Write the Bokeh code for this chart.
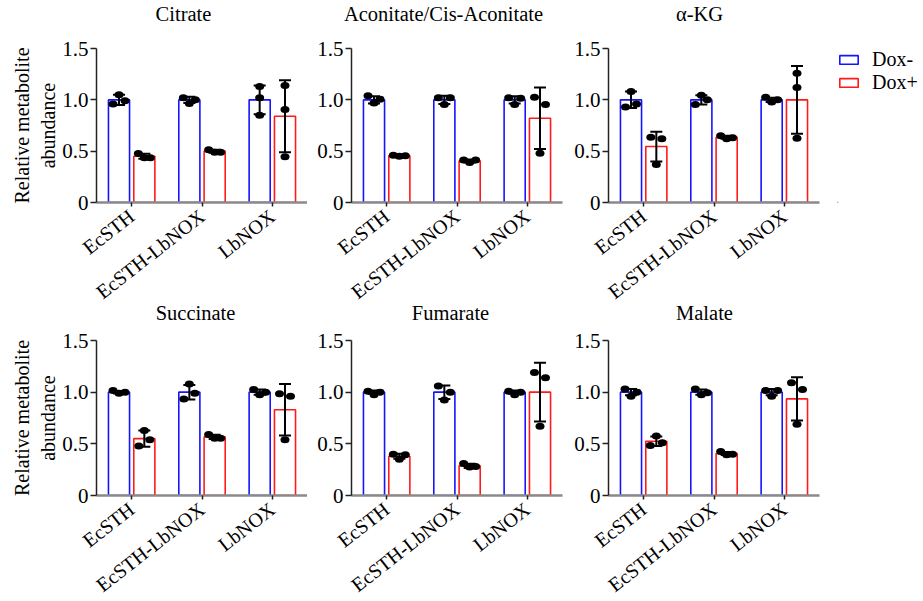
import math, json
from bokeh.plotting import figure
from bokeh.layouts import row, column
from bokeh.models import (ColumnDataSource, Range1d, FixedTicker, Whisker, TeeHead,
                          Legend, LegendItem, CustomJSTickFormatter, LinearAxis,
                          GlobalInlineStyleSheet)
from bokeh.embed import file_html
from bokeh.resources import INLINE

# ---------------- data ----------------
categories = ["EcSTH", "EcSTH-LbNOX", "LbNOX"]
groups = ["Dox-", "Dox+"]
titles = ["Citrate", "Aconitate/Cis-Aconitate", "\u03b1-KG", "Succinate", "Fumarate", "Malate"]
y_ticks = [0, 0.5, 1.0, 1.5]

citrate_mean_minus = [1.0, 1.0, 1.0]
citrate_sd_minus = [0.05, 0.03, 0.14]
citrate_mean_plus = [0.45, 0.50, 0.84]
citrate_sd_plus = [0.025, 0.015, 0.35]
citrate_pts_minus = [[0.96, 1.05, 0.99], [1.02, 0.965, 1.0], [1.13, 1.02, 0.85]]
citrate_pts_plus = [[0.477, 0.435, 0.435], [0.515, 0.49, 0.49], [1.14, 0.905, 0.445]]

aconitate_mean_minus = [1.0, 1.0, 1.0]
aconitate_sd_minus = [0.035, 0.04, 0.035]
aconitate_mean_plus = [0.455, 0.405, 0.82]
aconitate_sd_plus = [0.01, 0.015, 0.30]
aconitate_pts_minus = [[1.04, 0.97, 1.005], [1.02, 0.955, 1.02], [1.02, 0.955, 1.015]]
aconitate_pts_plus = [[0.46, 0.45, 0.455], [0.415, 0.39, 0.415], [1.025, 0.48, 0.955]]

akg_mean_minus = [1.0, 1.0, 1.0]
akg_sd_minus = [0.08, 0.045, 0.02]
akg_mean_plus = [0.545, 0.635, 1.0]
akg_sd_plus = [0.145, 0.015, 0.33]
akg_pts_minus = [[0.93, 1.08, 0.96], [0.955, 1.045, 1.0], [1.025, 0.98, 1.0]]
akg_pts_plus = [[0.635, 0.37, 0.62], [0.65, 0.62, 0.63], [1.26, 1.12, 0.625]]

succinate_mean_minus = [1.0, 1.0, 1.0]
succinate_sd_minus = [0.012, 0.07, 0.025]
succinate_mean_plus = [0.55, 0.567, 0.83]
succinate_sd_plus = [0.078, 0.02, 0.25]
succinate_pts_minus = [[1.015, 0.99, 1.0], [0.935, 1.08, 0.99], [1.025, 0.975, 1.0]]
succinate_pts_plus = [[0.48, 0.63, 0.54], [0.59, 0.555, 0.555], [0.985, 0.54, 0.96]]

fumarate_mean_minus = [1.0, 1.0, 1.0]
fumarate_sd_minus = [0.015, 0.065, 0.015]
fumarate_mean_plus = [0.38, 0.287, 1.0]
fumarate_sd_plus = [0.025, 0.02, 0.285]
fumarate_pts_minus = [[1.01, 0.975, 1.0], [1.06, 0.925, 1.0], [1.01, 0.975, 1.0]]
fumarate_pts_plus = [[0.40, 0.35, 0.395], [0.31, 0.275, 0.28], [1.19, 0.67, 1.14]]

malate_mean_minus = [1.0, 1.0, 1.0]
malate_sd_minus = [0.03, 0.025, 0.03]
malate_mean_plus = [0.525, 0.407, 0.935]
malate_sd_plus = [0.045, 0.015, 0.21]
malate_pts_minus = [[1.03, 0.96, 1.0], [1.03, 0.975, 0.995], [1.015, 0.96, 1.015]]
malate_pts_plus = [[0.485, 0.575, 0.51], [0.425, 0.395, 0.40], [1.09, 0.69, 1.025]]

panels = [
    (citrate_mean_minus, citrate_sd_minus, citrate_pts_minus, citrate_mean_plus, citrate_sd_plus, citrate_pts_plus),
    (aconitate_mean_minus, aconitate_sd_minus, aconitate_pts_minus, aconitate_mean_plus, aconitate_sd_plus, aconitate_pts_plus),
    (akg_mean_minus, akg_sd_minus, akg_pts_minus, akg_mean_plus, akg_sd_plus, akg_pts_plus),
    (succinate_mean_minus, succinate_sd_minus, succinate_pts_minus, succinate_mean_plus, succinate_sd_plus, succinate_pts_plus),
    (fumarate_mean_minus, fumarate_sd_minus, fumarate_pts_minus, fumarate_mean_plus, fumarate_sd_plus, fumarate_pts_plus),
    (malate_mean_minus, malate_sd_minus, malate_pts_minus, malate_mean_plus, malate_sd_plus, malate_pts_plus),
]

# ---------------- style / layout ----------------
FONT = "Liberation Serif"
BLUE = "#1414ff"
RED = "#ff1a1a"
FRAME_W = 211
FRAME_H = [154, 155]
PX_X = FRAME_W / 3.0
COL_W = [300, 257, 257]
COL_LEFT = [89, 44, 44]
COL_RIGHT = [0, 2, 2]
LEGEND_W = 101
LEGEND_LEFT = 16
LEGEND_TOP = 31
ROW_TOP = [49, 50]
ROW_BOTTOM = [140, 140]
ROW_MARGIN_TOP = [-1, -52]
ROW_MARGIN_LEFT = 7
BAR_OFF = 0.18
BAR_W = 0.30
TITLE_CENTER_PX = [87, 92, 91, 99, 99, 96]
TITLE_STANDOFF = [24, 17]


def jitter(vals, px_y):
    n = len(vals)
    order = sorted(range(n), key=lambda i: vals[i])
    clusters = []
    for i in order:
        if clusters and (vals[i] - vals[clusters[-1][-1]]) * px_y < 9:
            clusters[-1].append(i)
        else:
            clusters.append([i])
    pattern = {1: [0.0], 2: [-5.5, 5.5], 3: [-6.0, 0.0, 6.0]}
    offs = [0.0] * n
    for c in clusters:
        for k, i in enumerate(sorted(c)):
            offs[i] = pattern[len(c)][k] / PX_X
    return offs


def bar_style(col):
    return dict(fill_color="white", line_color=col, line_width=1.6)


def make_panel(idx):
    r, c = divmod(idx, 3)
    mean_m, sd_m, pts_m, mean_p, sd_p, pts_p = panels[idx]
    px_y = FRAME_H[r] / 1.5
    p = figure(width=COL_W[c], height=ROW_TOP[r] + FRAME_H[r] + ROW_BOTTOM[r],
               x_range=Range1d(0, 3), y_range=Range1d(0, 1.5),
               output_backend="svg", toolbar_location=None,
               min_border_left=COL_LEFT[c], min_border_right=COL_RIGHT[c],
               min_border_top=ROW_TOP[r], min_border_bottom=ROW_BOTTOM[r])
    p.outline_line_color = None
    p.grid.visible = False
    p.background_fill_color = "white"
    p.border_fill_color = None

    centers = [i + 0.5 for i in range(len(categories))]
    for g, (means, sds, pts, col, sign) in enumerate(
            [(mean_m, sd_m, pts_m, BLUE, -1), (mean_p, sd_p, pts_p, RED, 1)]):
        xs = [x + sign * BAR_OFF for x in centers]
        src = ColumnDataSource(dict(x=xs, top=means,
                                    upper=[m + s for m, s in zip(means, sds)],
                                    lower=[m - s for m, s in zip(means, sds)]))
        p.vbar(x="x", top="top", bottom=0, width=BAR_W, source=src, **bar_style(col))
        dx, dy = [], []
        for xc, vals in zip(xs, pts):
            offs = jitter(vals, px_y)
            dx += [xc + o for o in offs]
            dy += list(vals)
        p.ellipse(x=dx, y=dy, width=9, height=7, width_units="screen",
                  height_units="screen", fill_color="black", line_color=None)
        w = Whisker(source=src, base="x", upper="upper", lower="lower",
                    line_color="black", line_width=2, level="annotation",
                    upper_head=TeeHead(size=12, line_color="black", line_width=2),
                    lower_head=TeeHead(size=12, line_color="black", line_width=2))
        p.add_layout(w)

    # y axis
    ya = p.yaxis[0]
    ya.ticker = FixedTicker(ticks=y_ticks)
    ya.formatter = CustomJSTickFormatter(code="return tick == 0 ? '0' : tick.toFixed(1);")
    ya.minor_tick_line_color = None
    ya.major_tick_in = 0
    ya.major_tick_out = 6
    ya.major_label_standoff = 2
    ya.axis_line_color = "#222222"
    ya.axis_line_width = 1.5
    ya.major_tick_line_color = "#222222"
    ya.major_tick_line_width = 1.5
    ya.major_label_text_font = FONT
    ya.major_label_text_font_size = "21px"
    ya.major_label_text_color = "black"
    if c == 0:
        ya.axis_label = "Relative metabolite\nabundance"
        ya.axis_label_text_font = FONT
        ya.axis_label_text_font_size = "20px"
        ya.axis_label_text_font_style = "normal"
        ya.axis_label_text_color = "black"
        ya.axis_label_standoff = 0

    # x axis
    xa = p.xaxis[0]
    xa.ticker = FixedTicker(ticks=centers)
    xa.formatter = CustomJSTickFormatter(args=dict(labels=categories),
                                         code="return labels[Math.round(tick - 0.5)];")
    xa.minor_tick_line_color = None
    xa.major_tick_in = 0
    xa.major_tick_out = 4
    xa.major_label_standoff = 7
    xa.axis_line_color = "#8a8a8a"
    xa.axis_line_width = 2.5
    xa.major_tick_line_color = "#222222"
    xa.major_tick_line_width = 1.5
    xa.major_label_orientation = math.radians(38)
    xa.major_label_text_font = FONT
    xa.major_label_text_font_size = "20px"
    xa.major_label_text_color = "black"

    # panel title as the single label of an axis above the frame
    tc = TITLE_CENTER_PX[idx] / PX_X
    ta = LinearAxis(ticker=FixedTicker(ticks=[tc]),
                    formatter=CustomJSTickFormatter(code="return %s;" % json.dumps(titles[idx])))
    ta.axis_line_color = None
    ta.major_tick_line_color = None
    ta.minor_tick_line_color = None
    ta.major_tick_in = 0
    ta.major_tick_out = 0
    ta.major_label_standoff = TITLE_STANDOFF[r]
    ta.major_label_text_font = FONT
    ta.major_label_text_font_size = "20.5px"
    ta.major_label_text_color = "black"
    p.add_layout(ta, "above")
    return p


def make_legend_fig():
    # a frame-less figure that only carries the legend; its proxy bars lie
    # outside the visible range so that only the legend swatches show
    h = ROW_TOP[0] + FRAME_H[0] + ROW_BOTTOM[0]
    lf = figure(width=LEGEND_W, height=h, x_range=Range1d(0, 1), y_range=Range1d(0, 1),
                output_backend="svg", toolbar_location=None,
                x_axis_location=None, y_axis_location=None,
                min_border_left=LEGEND_LEFT, min_border_right=0,
                min_border_top=LEGEND_TOP, min_border_bottom=0)
    lf.outline_line_color = None
    lf.grid.visible = False
    lf.background_fill_color = None
    lf.border_fill_color = None
    proxy = ColumnDataSource(dict(x=[-5.0], top=[-5.0]))
    r_m = lf.vbar(x="x", top="top", bottom=-6, width=0.5, source=proxy, **bar_style(BLUE))
    r_p = lf.vbar(x="x", top="top", bottom=-6, width=0.5, source=proxy, **bar_style(RED))
    leg = Legend(items=[LegendItem(label=groups[0], renderers=[r_m]),
                        LegendItem(label=groups[1], renderers=[r_p])],
                 location="top_left", padding=0, margin=0, spacing=-2,
                 glyph_width=23, glyph_height=11, label_standoff=12,
                 label_text_font=FONT, label_text_font_size="20px",
                 label_text_color="black",
                 border_line_color=None, background_fill_alpha=0)
    lf.add_layout(leg)
    return lf


figs = [make_panel(i) for i in range(6)]
layout = column(row(*figs[:3], make_legend_fig(),
                    margin=(ROW_MARGIN_TOP[0], 0, 0, ROW_MARGIN_LEFT)),
                row(*figs[3:], margin=(ROW_MARGIN_TOP[1], 0, 0, ROW_MARGIN_LEFT)),
                stylesheets=[GlobalInlineStyleSheet(css="html, body { overflow: hidden; }")])
open("out.html", "w").write(file_html(layout, INLINE))
